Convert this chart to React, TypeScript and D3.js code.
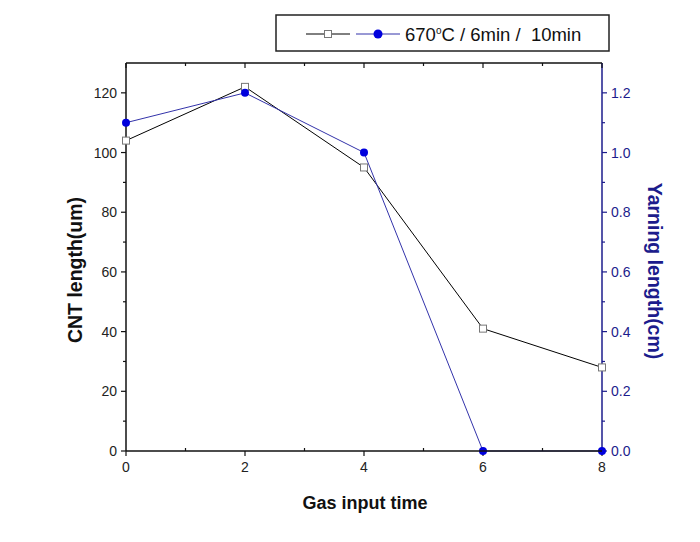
import React from "react";
import * as d3 from "d3";

const times = [0, 2, 4, 6, 8];
const cntLength = [104, 122, 95, 41, 28];
const yarnLength = [1.1, 1.2, 1.0, 0, 0];
const xTicks = [0, 2, 4, 6, 8];
const leftTicks = [0, 20, 40, 60, 80, 100, 120];
const rightTicks = [0, 0.2, 0.4, 0.6, 0.8, 1.0, 1.2];
const legendLabel = "670";
const legendRest = "C / 6min /  10min";

const W = 700, H = 542;
const L = 126, R = 602, T = 63, B = 451;
const font = "Arial, 'Liberation Sans', sans-serif";
const navy = "#1c1c8c";

export default function App() {
  const x = d3.scaleLinear().domain([0, 8]).range([L, R]);
  const yL = d3.scaleLinear().domain([0, 130]).range([B, T]);
  const yR = d3.scaleLinear().domain([0, 1.3]).range([B, T]);
  const lineL = d3.line<number>().x((_, i) => x(times[i])).y((d) => yL(d));
  const lineR = d3.line<number>().x((_, i) => x(times[i])).y((d) => yR(d));
  const xMinor = d3.range(1, 8, 2);
  const lMinor = d3.range(10, 130, 20);
  const rMinor = d3.range(0.1, 1.3, 0.2);
  return (
    <svg width={W} height={H} style={{ position: "absolute", left: 0, top: 0, background: "#fff" }} fontFamily={font}>
      {/* legend */}
      <rect x={276} y={15} width={333} height={36} fill="#fff" stroke="#222" strokeWidth={1.5} />
      <line x1={306} x2={350} y1={34} y2={34} stroke="#000" strokeWidth={1} />
      <rect x={324.5} y={30.5} width={7} height={7} fill="#fff" stroke="#777" />
      <line x1={356} x2={400} y1={34} y2={34} stroke="#3333aa" strokeWidth={1} />
      <circle cx={378} cy={34} r={4.5} fill="#0000dd" />
      <text x={405} y={41} fontSize={18.5} fill="#111" style={{ whiteSpace: "pre" }}>
        {legendLabel}
        <tspan dy={-7} fontSize={10}>o</tspan>
        <tspan dy={7}>{legendRest}</tspan>
      </text>

      {/* frame */}
      <line x1={L} x2={R} y1={T} y2={T} stroke="#111" strokeWidth={1.5} />
      <line x1={L} x2={L} y1={T} y2={B} stroke="#111" strokeWidth={1.5} />
      <line x1={R} x2={R} y1={T} y2={B} stroke={navy} strokeWidth={1.5} />

      {/* x ticks */}
      {xTicks.map((t) => (
        <g key={"x" + t}>
          <line x1={x(t)} x2={x(t)} y1={B} y2={B + 5} stroke="#111" strokeWidth={1.2} />
          <line x1={x(t)} x2={x(t)} y1={T} y2={T + 5} stroke="#111" strokeWidth={1.2} />
          <text x={x(t)} y={B + 21} fontSize={14} textAnchor="middle" fill="#222">{t}</text>
        </g>
      ))}
      {xMinor.map((t) => (
        <g key={"xm" + t}>
          <line x1={x(t)} x2={x(t)} y1={B} y2={B - 3} stroke="#111" strokeWidth={1.2} />
          <line x1={x(t)} x2={x(t)} y1={T} y2={T + 3} stroke="#111" strokeWidth={1.2} />
        </g>
      ))}
      {/* left ticks */}
      {leftTicks.map((t) => (
        <g key={"l" + t}>
          <line x1={L - 5} x2={L} y1={yL(t)} y2={yL(t)} stroke="#111" strokeWidth={1.2} />
          <text x={L - 9} y={yL(t) + 5} fontSize={14} textAnchor="end" fill="#222">{t}</text>
        </g>
      ))}
      {lMinor.map((t) => (
        <line key={"lm" + t} x1={L - 3} x2={L} y1={yL(t)} y2={yL(t)} stroke="#111" strokeWidth={1.2} />
      ))}
      {/* right ticks */}
      {rightTicks.map((t) => (
        <g key={"r" + t}>
          <line x1={R} x2={R + 5} y1={yR(t)} y2={yR(t)} stroke={navy} strokeWidth={1.2} />
          <text x={R + 9} y={yR(t) + 5} fontSize={14} textAnchor="start" fill={navy}>{t.toFixed(1)}</text>
        </g>
      ))}
      {rMinor.map((t) => (
        <line key={"rm" + t} x1={R} x2={R + 3} y1={yR(t)} y2={yR(t)} stroke={navy} strokeWidth={1.2} />
      ))}

      {/* series */}
      <path d={lineL(cntLength) || ""} fill="none" stroke="#000" strokeWidth={1} />
      {cntLength.map((v, i) => (
        <rect key={"s" + i} x={x(times[i]) - 3.5} y={yL(v) - 3.5} width={7} height={7} fill="#fff" stroke="#777" />
      ))}
      <path d={lineR(yarnLength) || ""} fill="none" stroke="#3333aa" strokeWidth={1} />
      {yarnLength.map((v, i) => (
        <circle key={"c" + i} cx={x(times[i])} cy={yR(v)} r={4} fill="#0000dd" />
      ))}
      {/* bottom axis drawn over */}
      <line x1={L} x2={R} y1={B} y2={B} stroke="#111" strokeWidth={1.5} />

      {/* axis titles */}
      <text x={365} y={509} fontSize={18} fontWeight="bold" textAnchor="middle" fill="#111">Gas input time</text>
      <text transform={`translate(82,270) rotate(-90)`} fontSize={19.5} fontWeight="bold" textAnchor="middle" fill="#111">CNT length(um)</text>
      <text transform={`translate(648,271) rotate(90)`} fontSize={19.5} fontWeight="bold" textAnchor="middle" fill={navy}>Yarning length(cm)</text>
    </svg>
  );
}
